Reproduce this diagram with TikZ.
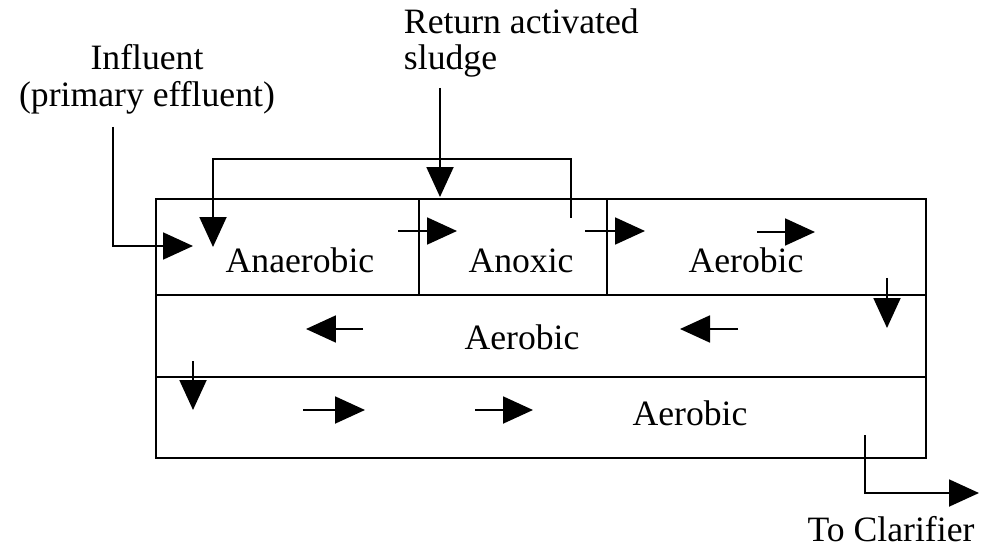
\documentclass[tikz,border=0pt]{standalone}
\usepackage{fontspec}
\setmainfont{Liberation Serif}
\usetikzlibrary{arrows.meta}

\begin{document}
\begin{tikzpicture}[x=0.02cm, y=-0.02cm, line width=1.1pt,
  flow/.style={-{Triangle[length=0.6cm, width=0.54cm]}},
  lbl/.style={font=\fontsize{20.3}{21}\selectfont, inner sep=0pt}]
  \useasboundingbox (0,0) rectangle (994,547);
  \draw (156,199) rectangle (926,458);
  \draw (156,295) -- (926,295);
  \draw (156,377) -- (926,377);
  \draw (419,199) -- (419,295);
  \draw (607,199) -- (607,295);
  \node (anaer) [lbl, anchor=base] at (300,273) {Anaerobic};
  \node (anox) [lbl, anchor=base] at (521,273) {Anoxic};
  \node (aer1) [lbl, anchor=base] at (746,273) {Aerobic};
  \node (aer2) [lbl, anchor=base] at (522,349) {Aerobic};
  \node (aer3) [lbl, anchor=base] at (690,425) {Aerobic};
  \node (infl) [lbl, align=center] at (147,79) {Influent\\(primary effluent)};
  \node (ras) [lbl, align=left, anchor=west] at (403,43) {Return activated\\sludge};
  \node (clar) [lbl, anchor=base] at (891,541) {To Clarifier};
  \coordinate (infl-top) at (113,127);
  \coordinate (infl-in) at (193,246);
  \coordinate (ras-top) at (440,88);
  \coordinate (ras-in) at (440,197);
  \coordinate (mlr-out) at (571,218);
  \coordinate (mlr-in) at (213,247);
  \coordinate (eff-out) at (865,435);
  \coordinate (clar-in) at (979,493);
  \draw[flow] (infl-top) |- (infl-in);
  \draw[flow] (ras-top) -- (ras-in);
  \draw[flow] (mlr-out) -- ++(0,-59) -| (mlr-in);
  \draw[flow] (eff-out) |- (clar-in);
  \foreach \xa/\ya/\xb/\yb in {398/231/457/231, 585/231/645/231, 757/232/815/232,
      887/278/887/328, 738/329/680/329, 363/329/306/329,
      193/361/193/410, 303/410/365/410, 475/410/533/410}
    \draw[flow] (\xa,\ya) -- (\xb,\yb);
\end{tikzpicture}
\end{document}
